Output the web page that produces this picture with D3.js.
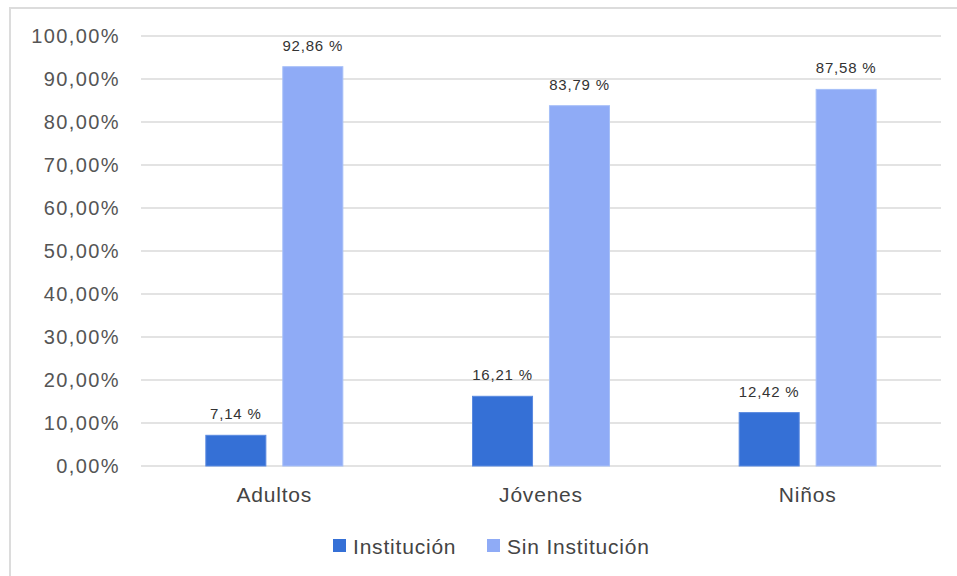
<!DOCTYPE html>
<html>
<head>
<meta charset="utf-8">
<script src="https://cdn.jsdelivr.net/npm/d3@7"></script>
<style>
  html, body { margin: 0; padding: 0; background: #fff; }
  svg { display: block; font-family: "Liberation Sans", Arial, sans-serif; }
</style>
</head>
<body>
<svg id="chart" width="957" height="576"></svg>
<script>
// Data
var categories = ["Adultos", "Jóvenes", "Niños"];
var seriesNames = ["Institución", "Sin Institución"];
var institucion = [7.14, 16.21, 12.42];
var sinInstitucion = [92.86, 83.79, 87.58];
var yTicks = [0, 10, 20, 30, 40, 50, 60, 70, 80, 90, 100];
var colors = ["#3570d6", "#8fabf6"];

var svg = d3.select("#chart");

// frame (only top and left edges show in the picture)
svg.append("path")
  .attr("d", "M10,576 L10,8 L957,8")
  .attr("fill", "none")
  .attr("stroke", "#dcdcdc")
  .attr("stroke-width", 2);

var margin = {left: 141, right: 941, top: 36, bottom: 466};

var x = d3.scaleBand().domain(categories).range([margin.left, margin.right]);
var x1 = d3.scaleBand().domain(seriesNames).range([0, 137]).paddingInner(0.22);
var y = d3.scaleLinear().domain([0, 100]).range([margin.bottom, margin.top]);

var fmt = function(v){ return v.toFixed(2).replace(".", ","); };

// gridlines
svg.append("g").selectAll("line").data(yTicks).join("line")
  .attr("x1", margin.left).attr("x2", margin.right)
  .attr("y1", function(d){ return y(d); }).attr("y2", function(d){ return y(d); })
  .attr("stroke", "#dadada").attr("stroke-width", 1.5);

// y tick labels
svg.append("g").selectAll("text").data(yTicks).join("text")
  .attr("x", 120).attr("y", function(d){ return y(d); })
  .attr("dy", "0.36em")
  .attr("text-anchor", "end")
  .attr("font-size", 20)
  .attr("letter-spacing", 1.4)
  .attr("fill", "#555")
  .text(function(d){ return fmt(d) + "%"; });

// bars
var series = [institucion, sinInstitucion];
var groups = svg.append("g").selectAll("g").data(categories).join("g")
  .attr("transform", function(d){ return "translate(" + (x(d) + x.bandwidth()/2 - 68.5) + ",0)"; });

groups.each(function(cat, ci){
  var g = d3.select(this);
  seriesNames.forEach(function(s, si){
    var v = series[si][ci];
    g.append("rect")
      .attr("x", x1(s)).attr("width", x1.bandwidth())
      .attr("y", y(v)).attr("height", y(0) - y(v))
      .attr("fill", colors[si])
      .attr("stroke", si === 0 ? "#5a8ae0" : "#a6bff8")
      .attr("stroke-width", 1);
    g.append("text")
      .attr("x", x1(s) + x1.bandwidth()/2)
      .attr("y", y(v) - 16)
      .attr("text-anchor", "middle")
      .attr("font-size", 15)
      .attr("letter-spacing", 0.8)
      .attr("fill", "#333")
      .text(fmt(v) + " %");
  });
});

// category labels
svg.append("g").selectAll("text").data(categories).join("text")
  .attr("x", function(d){ return x(d) + x.bandwidth()/2; })
  .attr("y", 502)
  .attr("text-anchor", "middle")
  .attr("font-size", 21)
  .attr("letter-spacing", 0.8)
  .attr("fill", "#444")
  .text(function(d){ return d; });

// legend
var legendX = [333, 487];
var legend = svg.append("g").selectAll("g").data(seriesNames).join("g")
  .attr("transform", function(d, i){ return "translate(" + legendX[i] + ",539)"; });
legend.append("rect").attr("width", 13).attr("height", 13)
  .attr("fill", function(d, i){ return colors[i]; });
legend.append("text")
  .attr("x", 20).attr("y", 14.5)
  .attr("font-size", 21)
  .attr("letter-spacing", 0.8)
  .attr("fill", "#444")
  .text(function(d){ return d; });
</script>
</body>
</html>
